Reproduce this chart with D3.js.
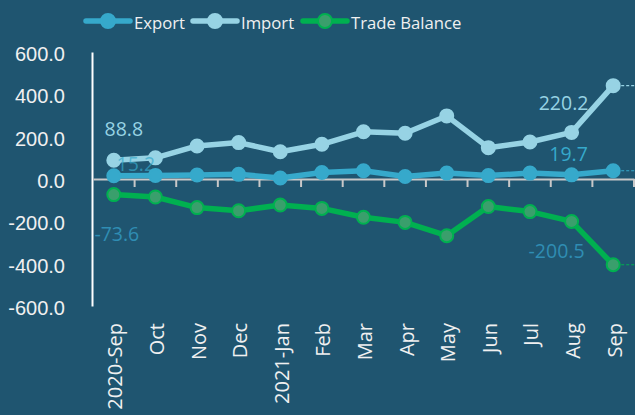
<!DOCTYPE html>
<html>
<head>
<meta charset="utf-8">
<script src="https://cdn.jsdelivr.net/npm/d3@7"></script>
<style>
  body { margin: 0; background: #1f5570; }
  svg { display: block; font-family: "Open Sans", "Noto Sans", sans-serif; }
</style>
</head>
<body>
<div id="chart"></div>
<script>
// chart data
const MONTHS = ["2020-Sep", "Oct", "Nov", "Dec", "2021-Jan", "Feb", "Mar", "Apr", "May", "Jun", "Jul", "Aug", "Sep"];
const EXPORT = [15.2, 17, 19, 22, 5, 31, 39, 12, 28, 16, 28, 19.7, 39];
const IMPORT = [88.8, 100, 156, 172, 129, 164, 223, 216, 298, 148, 175, 220.2, 441];
const BALANCE = [-73.6, -85, -135, -150, -123, -139, -181, -205, -268, -130, -154, -200.5, -405];
const Y_TICKS = [600, 400, 200, 0, -200, -400, -600];

const FRAME_WIDTH = 635;
const FRAME_HEIGHT = 415;
const MARGINS = {left: 93, right: 1, top: 52, bottom: 109};

const SERIES = [
  {name: "Export", values: EXPORT, color: "#36a9cb", fill: "#36a9cb", label: "#36a9cb"},
  {name: "Import", values: IMPORT, color: "#97d3e4", fill: "#97d3e4", label: "#97d3e4"},
  {name: "Trade Balance", values: BALANCE, color: "#00b050", fill: "#3a9f6c", label: "#2f8db3"}
];

const FRAME = d3.select("#chart")
  .append("svg")
    .attr("width", FRAME_WIDTH)
    .attr("height", FRAME_HEIGHT);

FRAME.append("rect")
  .attr("width", FRAME_WIDTH)
  .attr("height", FRAME_HEIGHT)
  .attr("fill", "#1f5570");

// scales
const X_SCALE = d3.scaleBand()
  .domain(MONTHS)
  .range([MARGINS.left, FRAME_WIDTH - MARGINS.right]);
const Y_SCALE = d3.scaleLinear()
  .domain([-600, 600])
  .range([FRAME_HEIGHT - MARGINS.bottom, MARGINS.top]);
const cx = (i) => X_SCALE(MONTHS[i]) + X_SCALE.bandwidth() / 2;
const fmt = (v) => v.toFixed(1);

// y axis
const yAxis = FRAME.append("g")
  .attr("transform", "translate(" + (MARGINS.left - 1) + ",0)")
  .call(d3.axisLeft(Y_SCALE).tickValues(Y_TICKS).tickSize(0).tickPadding(27).tickFormat(fmt));
yAxis.select(".domain").attr("stroke", "#ffffff").attr("stroke-width", 2);
yAxis.selectAll("text")
  .attr("fill", "#f0f0f0")
  .attr("font-size", "20px")
  .attr("dy", "0.42em");

// x axis at zero
const xAxis = FRAME.append("g")
  .attr("transform", "translate(0," + Y_SCALE(0) + ")")
  .call(d3.axisBottom(X_SCALE).tickSize(0).tickFormat(""));
xAxis.select(".domain").attr("stroke", "#c8c8c8").attr("stroke-width", 2);
// ticks between categories
xAxis.selectAll(".sep")
  .data(MONTHS)
  .enter()
  .append("line")
    .attr("x1", (d) => X_SCALE(d) + X_SCALE.bandwidth())
    .attr("x2", (d) => X_SCALE(d) + X_SCALE.bandwidth())
    .attr("y1", 0)
    .attr("y2", 8)
    .attr("stroke", "#c8c8c8")
    .attr("stroke-width", 2);

// category labels, rotated
FRAME.append("g")
  .selectAll("text")
  .data(MONTHS)
  .enter()
  .append("text")
    .attr("transform", (d, i) => "translate(" + (cx(i) + 8.5) + "," + (FRAME_HEIGHT - MARGINS.bottom + 17) + ") rotate(-90)")
    .attr("text-anchor", "end")
    .attr("fill", "#f0f0f0")
    .attr("font-size", "20px")
    .text((d) => d);

// dashed leaders from last points
const last = MONTHS.length - 1;
SERIES.forEach((s) => {
  FRAME.append("line")
    .attr("x1", cx(last) + 8)
    .attr("x2", FRAME_WIDTH)
    .attr("y1", Y_SCALE(s.values[last]))
    .attr("y2", Y_SCALE(s.values[last]))
    .attr("stroke", s.color)
    .attr("stroke-width", 1.2)
    .attr("stroke-dasharray", "3,2");
});

// lines and markers
const line = d3.line()
  .x((d, i) => cx(i))
  .y((d) => Y_SCALE(d));

SERIES.forEach((s) => {
  FRAME.append("path")
    .datum(s.values)
    .attr("d", line)
    .attr("fill", "none")
    .attr("stroke", s.color)
    .attr("stroke-width", 5.5)
    .attr("stroke-linejoin", "round");
  FRAME.selectAll(".pt-" + s.name.replace(" ", ""))
    .data(s.values)
    .enter()
    .append("circle")
      .attr("cx", (d, i) => cx(i))
      .attr("cy", (d) => Y_SCALE(d))
      .attr("r", 6.5)
      .attr("fill", s.fill)
      .attr("stroke", s.color)
      .attr("stroke-width", 2);
});

// data labels for first and Aug points
const LABELS = [
  {s: 1, i: 0, dx: 10, dy: -24},
  {s: 0, i: 0, dx: 22, dy: -5},
  {s: 2, i: 0, dx: 3, dy: 46},
  {s: 1, i: 11, dx: -8, dy: -22},
  {s: 0, i: 11, dx: -3, dy: -14},
  {s: 2, i: 11, dx: -15, dy: 37}
];
FRAME.append("g")
  .selectAll("text")
  .data(LABELS)
  .enter()
  .append("text")
    .attr("x", (d) => cx(d.i) + d.dx)
    .attr("y", (d) => Y_SCALE(SERIES[d.s].values[d.i]) + d.dy)
    .attr("text-anchor", "middle")
    .attr("font-size", "19.5px")
    .attr("fill", (d) => SERIES[d.s].label)
    .attr("fill-opacity", (d) => d.s === 0 && d.i === 0 ? 0.7 : 1)
    .text((d) => fmt(SERIES[d.s].values[d.i]));

// legend
const LEGEND_X = [86, 193, 303];
const legend = FRAME.append("g");
SERIES.forEach((s, k) => {
  const x0 = LEGEND_X[k];
  legend.append("line")
    .attr("x1", x0).attr("x2", x0 + 44)
    .attr("y1", 21).attr("y2", 21)
    .attr("stroke", s.color)
    .attr("stroke-width", 5.5)
    .attr("stroke-linecap", "round");
  legend.append("circle")
    .attr("cx", x0 + 22).attr("cy", 21)
    .attr("r", 7)
    .attr("fill", s.fill)
    .attr("stroke", s.color)
    .attr("stroke-width", 2);
  legend.append("text")
    .attr("x", x0 + 48)
    .attr("y", 29)
    .attr("font-size", "16.7px")
    .attr("fill", "#f0f0f0")
    .text(s.name);
});
</script>
</body>
</html>
